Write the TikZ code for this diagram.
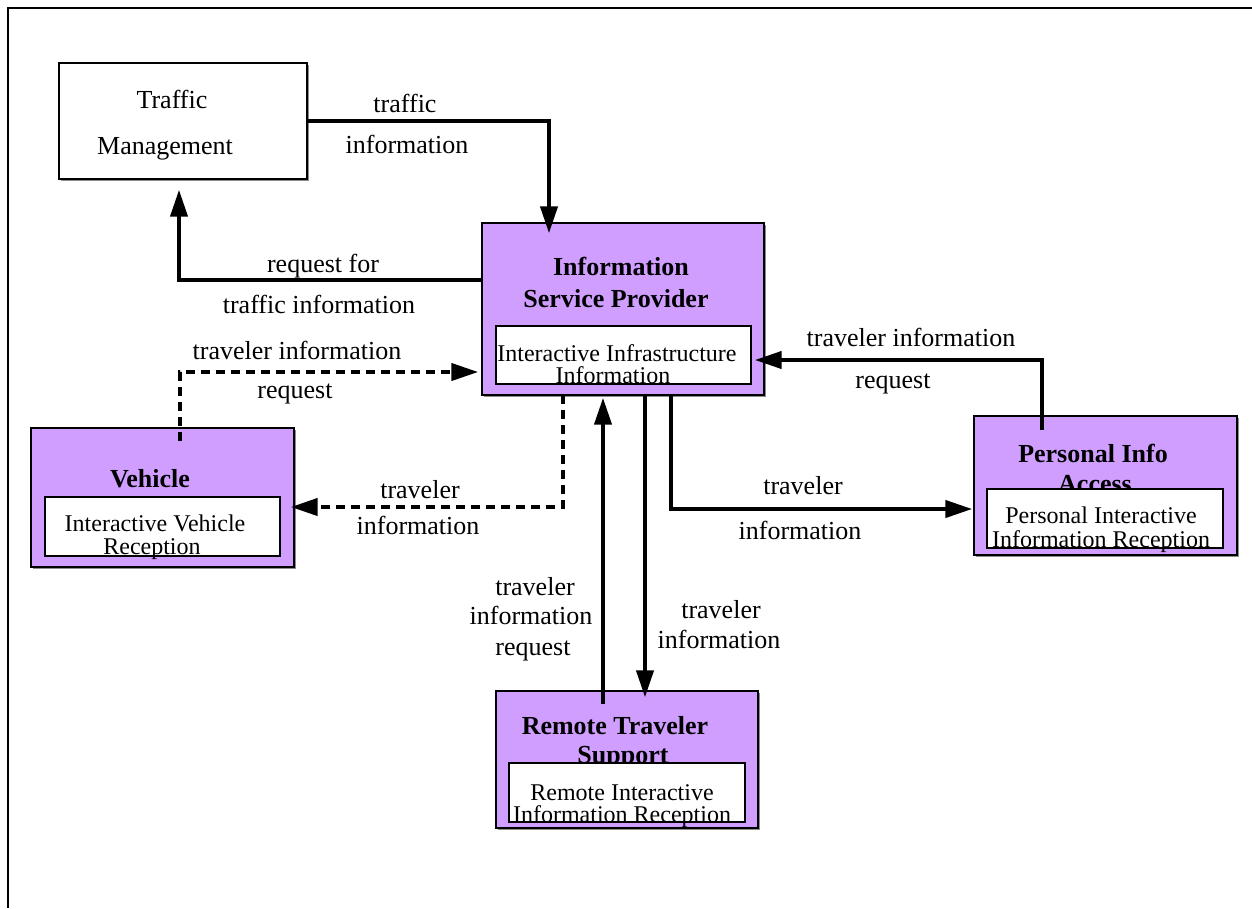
\documentclass[tikz,border=0pt]{standalone}
\usepackage{fontspec}
\setmainfont{Liberation Serif}
\usetikzlibrary{arrows.meta,shadows}
\definecolor{svcpurple}{RGB}{208,158,255}
\begin{document}
\begin{tikzpicture}[x=0.75pt,y=-0.75pt,
  lbl/.style={font=\fontsize{19.5}{22}\selectfont, anchor=base, inner sep=0pt},
  ttl/.style={font=\fontsize{19.5}{22}\selectfont\bfseries, anchor=base, inner sep=0pt},
  sub/.style={font=\fontsize{18}{20}\selectfont, anchor=base, inner sep=0pt},
  outerbox/.style={draw, line width=1.7pt, fill=svcpurple, inner sep=0pt, outer sep=0pt,
    drop shadow={shadow xshift=1.5pt, shadow yshift=-1.5pt, fill=black!45, opacity=1}},
  innerbox/.style={draw, line width=1.7pt, fill=white, inner sep=0pt, outer sep=0pt},
  conn/.style={line width=2.3pt, -{Triangle[length=20pt,width=13pt]}},
  dconn/.style={conn, dash pattern=on 6.75pt off 4.5pt}
]
\useasboundingbox (0,0) rectangle (1252,908);

% frame
\draw[line width=2.2pt] (8,908) -- (8,8) -- (1252,8);

% Traffic Management
\node[outerbox, fill=white, minimum width=186pt, minimum height=87pt] (tm) at (183,121) {};
\node[lbl] (tmA) at (172,108) {Traffic};
\node[lbl] (tmB) at (165,154) {Management};

% Information Service Provider
\node[outerbox, minimum width=211.5pt, minimum height=129pt] (isp) at (623,309) {};
\node[ttl] (ispA) at (621,275) {Information};
\node[ttl] (ispB) at (616,307) {Service Provider};
\node[innerbox, minimum width=191.25pt, minimum height=43.5pt] (ispIn) at (623.5,355) {};
\node[sub] (ispC) at (617,361) {Interactive Infrastructure};
\node[sub] (ispD) at (613,383) {Information};

% Vehicle
\node[outerbox, minimum width=197.25pt, minimum height=104.25pt] (veh) at (162.5,497.5) {};
\node[ttl] (vehA) at (150,487) {Vehicle};
\node[innerbox, minimum width=176.25pt, minimum height=44.25pt] (vehIn) at (162.5,526.5) {};
\node[sub] (vehB) at (155,531) {Interactive Vehicle};
\node[sub] (vehC) at (152,554) {Reception};

% Personal Info Access
\node[outerbox, minimum width=197.25pt, minimum height=104.25pt] (pia) at (1105.5,485.5) {};
\node[ttl] (piaA) at (1093,462) {Personal Info};
\node[ttl] (piaB) at (1095,492) {Access};
\node[innerbox, minimum width=177pt, minimum height=44.25pt] (piaIn) at (1105,518.5) {};
\node[sub] (piaC) at (1101,523) {Personal Interactive};
\node[sub] (piaD) at (1101,547) {Information Reception};

% Remote Traveler Support
\node[outerbox, minimum width=196.5pt, minimum height=102.75pt] (rts) at (627,759.5) {};
\node[ttl] (rtsA) at (615,734) {Remote Traveler};
\node[ttl] (rtsB) at (623,763) {Support};
\node[innerbox, minimum width=177pt, minimum height=44.25pt] (rtsIn) at (627,792.5) {};
\node[sub] (rtsC) at (622,800) {Remote Interactive};
\node[sub] (rtsD) at (622,822) {Information Reception};

% flows
\draw[conn] (tm.east) -| ([xshift=-55.5pt,yshift=-7.5pt]isp.north);
\node[lbl] (l1a) at (405,112) {traffic};
\node[lbl] (l1b) at (407,153) {information};

\draw[conn] ([yshift=21.75pt]isp.west) -| ([xshift=-3pt,yshift=-8.25pt]tm.south);
\node[lbl] (l2a) at (323,272) {request for};
\node[lbl] (l2b) at (319,313) {traffic information};

\draw[dconn] ([xshift=13.125pt,yshift=-9.75pt]veh.north) |- ([xshift=-3pt,yshift=-47.25pt]isp.west);
\node[lbl] (l3a) at (297,359) {traveler information};
\node[lbl] (l3b) at (295,398) {request};

\draw[dconn] ([xshift=-45pt]isp.south) |- ([xshift=-2.25pt,yshift=-7.125pt]veh.east);
\node[lbl] (l4a) at (420,498) {traveler};
\node[lbl] (l4b) at (418,534) {information};

\draw[conn] ([xshift=36pt]isp.south) |- ([xshift=-1.5pt,yshift=-17.625pt]pia.west);
\node[lbl] (l5a) at (803,494) {traveler};
\node[lbl] (l5b) at (800,539) {information};

\draw[conn] ([xshift=-47.625pt,yshift=-10.5pt]pia.north) |- ([xshift=-6.75pt,yshift=-38.25pt]isp.east);
\node[lbl] (l6a) at (911,346) {traveler information};
\node[lbl] (l6b) at (893,388) {request};

\draw[conn] ([xshift=-18pt,yshift=-9.75pt]rts.north) -- ([xshift=-15pt,yshift=-2.25pt]isp.south);
\node[lbl] (l7a) at (535,595) {traveler};
\node[lbl] (l7b) at (531,624) {information};
\node[lbl] (l7c) at (533,655) {request};

\draw[conn] ([xshift=16.5pt]isp.south) -- ([xshift=13.5pt,yshift=-4.5pt]rts.north);
\node[lbl] (l8a) at (721,618) {traveler};
\node[lbl] (l8b) at (719,648) {information};
\end{tikzpicture}
\end{document}
